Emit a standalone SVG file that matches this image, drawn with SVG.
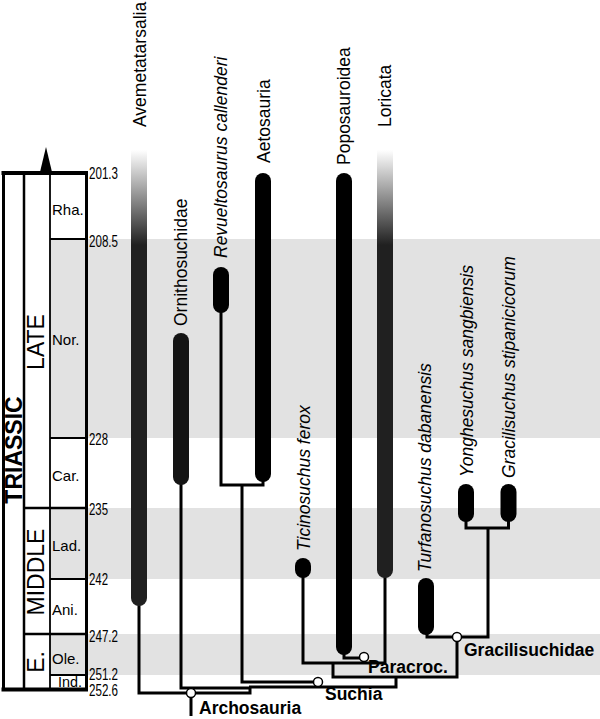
<svg xmlns="http://www.w3.org/2000/svg" width="600" height="719" viewBox="0 0 600 719">
<defs>
<linearGradient id="fade" gradientUnits="userSpaceOnUse" x1="0" y1="150" x2="0" y2="245">
<stop offset="0" stop-color="#ffffff"/>
<stop offset="1" stop-color="#202020"/>
</linearGradient>
</defs>
<style>
.band{fill:#e2e2e2}
.fr{stroke:#000;fill:none}
.num{font-family:"Liberation Sans",Arial,sans-serif;font-size:16px;fill:#000}
.stg{font-family:"Liberation Sans",Arial,sans-serif;font-size:15px;fill:#000}
.ep{font-family:"Liberation Sans",Arial,sans-serif;font-size:23px;fill:#000;text-anchor:middle}
.per{font-family:"Liberation Sans",Arial,sans-serif;font-size:23px;font-weight:bold;fill:#000;text-anchor:middle}
.tx{font-family:"Liberation Sans",Arial,sans-serif;font-size:17.5px;fill:#000}
.it{font-style:italic}
.cl{font-family:"Liberation Sans",Arial,sans-serif;font-size:17.5px;font-weight:bold;fill:#000}
.br{fill:none;stroke:#000;stroke-width:3;stroke-linejoin:miter;stroke-linecap:butt}
.nd{fill:#fff;stroke:#000;stroke-width:1.5}
.bar{fill:#000}
</style>
<g id="bands">
<rect class="band" x="50" y="239" width="550" height="199"/>
<rect class="band" x="50" y="508" width="550" height="71"/>
<rect class="band" x="50" y="634" width="550" height="41"/>
</g>
<g id="timescale">
<polygon points="40,172 52,172 46,147" fill="#000"/>
<line class="fr" x1="1.5" y1="173" x2="88" y2="173" stroke-width="4"/>
<line class="fr" x1="1.5" y1="689.5" x2="88" y2="689.5" stroke-width="4"/>
<line class="fr" x1="3.5" y1="173" x2="3.5" y2="689" stroke-width="3"/>
<line class="fr" x1="24" y1="173" x2="24" y2="689" stroke-width="2.5"/>
<line class="fr" x1="50" y1="173" x2="50" y2="689" stroke-width="1.8"/>
<line class="fr" x1="86.5" y1="173" x2="86.5" y2="689" stroke-width="3"/>
<line class="fr" x1="50" y1="239" x2="86" y2="239" stroke-width="2"/>
<line class="fr" x1="50" y1="438" x2="86" y2="438" stroke-width="2"/>
<line class="fr" x1="24" y1="508" x2="86" y2="508" stroke-width="2.5"/>
<line class="fr" x1="50" y1="579" x2="86" y2="579" stroke-width="2"/>
<line class="fr" x1="24" y1="634" x2="86" y2="634" stroke-width="2.5"/>
<line class="fr" x1="50" y1="675" x2="86" y2="675" stroke-width="2"/>
<text class="per" transform="translate(21.5,450) rotate(-90)">TRIASSIC</text>
<text class="ep" transform="translate(44,342) rotate(-90)">LATE</text>
<text class="ep" transform="translate(44,572) rotate(-90)">MIDDLE</text>
<text class="ep" transform="translate(44,662) rotate(-90)">E.</text>
<text class="stg" x="52" y="215">Rha.</text>
<text class="stg" x="52" y="345">Nor.</text>
<text class="stg" x="52" y="481">Car.</text>
<text class="stg" x="52" y="551">Lad.</text>
<text class="stg" x="52" y="615">Ani.</text>
<text class="stg" x="52" y="664">Ole.</text>
<text class="stg" x="58" y="687" font-size="12" textLength="24" lengthAdjust="spacingAndGlyphs">Ind.</text>
<text class="num" x="89" y="179" textLength="29" lengthAdjust="spacingAndGlyphs">201.3</text>
<text class="num" x="89" y="247" textLength="29" lengthAdjust="spacingAndGlyphs">208.5</text>
<text class="num" x="89" y="445" textLength="19" lengthAdjust="spacingAndGlyphs">228</text>
<text class="num" x="89" y="515" textLength="19" lengthAdjust="spacingAndGlyphs">235</text>
<text class="num" x="89" y="585" textLength="19" lengthAdjust="spacingAndGlyphs">242</text>
<text class="num" x="89" y="642" textLength="29" lengthAdjust="spacingAndGlyphs">247.2</text>
<text class="num" x="89" y="680" textLength="29" lengthAdjust="spacingAndGlyphs">251.2</text>
<text class="num" x="89" y="696" textLength="29" lengthAdjust="spacingAndGlyphs">252.6</text>
</g>
<g id="connectors">
<path class="br" d="M181,480 V688 H250 V693 H139 V600"/>
<path class="br" d="M191,693 V716"/>
<path class="br" d="M249,687 H396 V677"/>
<path class="br" d="M221,310 V485 H263 V478"/>
<path class="br" d="M242,485 V682 H318"/>
<path class="br" d="M303,575 V663 H385 V575"/>
<path class="br" d="M344,650 V658 H364"/>
<path class="br" d="M333,663 V677 H457 V637"/>
<path class="br" d="M427,630 V637 H457"/>
<path class="br" d="M466,518 V528 H508.5 V518"/>
<path class="br" d="M488,528 V637 H457"/>
</g>
<g id="Avemetatarsalia">
<path d="M131,150 V598 A8,8 0 0 0 147,598 V150 Z" fill="url(#fade)"/>
<text class="tx" transform="translate(146,127) rotate(-90)">Avemetatarsalia</text>
</g>
<g id="Ornithosuchidae">
<rect x="173" y="333" width="16" height="152" rx="8" fill="#141414"/>
<text class="tx" transform="translate(187,326) rotate(-90)">Ornithosuchidae</text>
</g>
<g id="Revueltosaurus">
<rect class="bar" x="213" y="267" width="16" height="46" rx="8"/>
<text class="tx it" transform="translate(227,258) rotate(-90)">Revueltosaurus callenderi</text>
</g>
<g id="Aetosauria">
<rect class="bar" x="255" y="173" width="16" height="309" rx="8"/>
<text class="tx" transform="translate(269.5,163) rotate(-90)">Aetosauria</text>
</g>
<g id="Ticinosuchus">
<rect class="bar" x="295" y="558" width="16" height="20" rx="8"/>
<text class="tx it" transform="translate(310,551) rotate(-90)">Ticinosuchus ferox</text>
</g>
<g id="Poposauroidea">
<rect class="bar" x="336" y="173" width="16" height="482" rx="8"/>
<text class="tx" transform="translate(350,165) rotate(-90)">Poposauroidea</text>
</g>
<g id="Loricata">
<path d="M377,150 V570 A8,8 0 0 0 393,570 V150 Z" fill="url(#fade)"/>
<text class="tx" transform="translate(391,127) rotate(-90)">Loricata</text>
</g>
<g id="Turfanosuchus">
<rect class="bar" x="418" y="578" width="16" height="57" rx="8"/>
<text class="tx it" transform="translate(431,572) rotate(-90)">Turfanosuchus dabanensis</text>
</g>
<g id="Yonghesuchus">
<rect class="bar" x="458" y="484" width="16" height="38" rx="8"/>
<text class="tx it" transform="translate(473,477) rotate(-90)">Yonghesuchus sangbiensis</text>
</g>
<g id="Gracilisuchus">
<rect class="bar" x="500.5" y="484" width="16" height="38" rx="8"/>
<text class="tx it" transform="translate(515,478) rotate(-90)">Gracilisuchus stipanicicorum</text>
</g>
<g id="Archosauria">
<circle class="nd" cx="191" cy="693" r="4.5"/>
<text class="cl" x="199" y="714">Archosauria</text>
</g>
<g id="Suchia">
<circle class="nd" cx="318" cy="682" r="4.5"/>
<text class="cl" x="325" y="700">Suchia</text>
</g>
<g id="Paracroc">
<circle class="nd" cx="364" cy="657" r="4.5"/>
<text class="cl" x="368" y="673">Paracroc.</text>
</g>
<g id="Gracilisuchidae">
<circle class="nd" cx="457" cy="637" r="4.5"/>
<text class="cl" x="464" y="656">Gracilisuchidae</text>
</g>
</svg>
